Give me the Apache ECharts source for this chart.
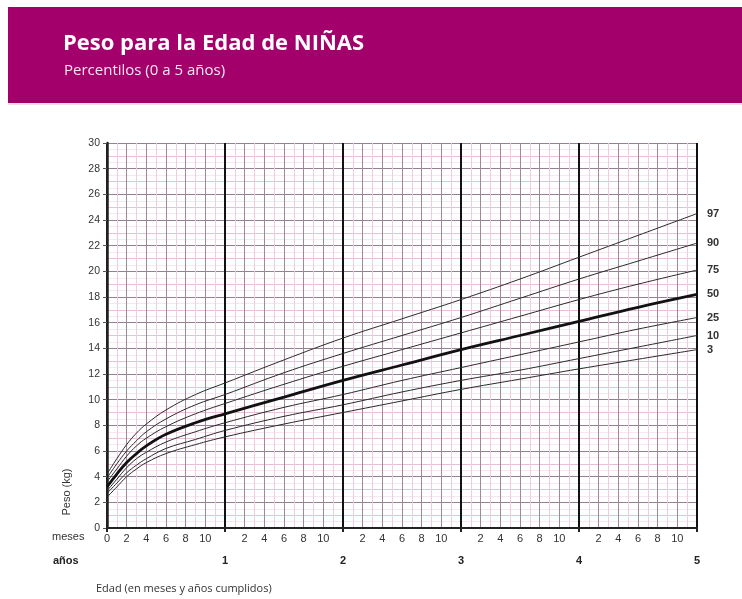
<!DOCTYPE html>
<html><head><meta charset="utf-8">
<script src="https://cdn.jsdelivr.net/npm/echarts@6/dist/echarts.min.js"></script>
<style>html,body{margin:0;padding:0;background:#fff}#c{width:742px;height:599px}</style>
</head><body><div id="c"></div>
<script>
const months = [0,1,2,3,4,6,9,12,18,24,30,36,42,48,54,60];
const p3  = [2.4,3.2,4.0,4.6,5.1,5.8,6.5,7.1,8.1,9.0,9.9,10.8,11.6,12.4,13.15,13.9];
const p10 = [2.7,3.5,4.3,4.9,5.4,6.2,6.9,7.6,8.7,9.6,10.6,11.5,12.3,13.2,14.1,15.0];
const p25 = [2.9,3.8,4.7,5.4,5.9,6.7,7.5,8.2,9.4,10.4,11.5,12.5,13.5,14.5,15.5,16.4];
const p50 = [3.2,4.2,5.1,5.8,6.4,7.3,8.2,8.9,10.2,11.5,12.7,13.9,15.0,16.1,17.2,18.2];
const p75 = [3.6,4.6,5.6,6.4,7.0,7.9,8.9,9.7,11.2,12.6,13.9,15.2,16.5,17.8,19.0,20.1];
const p90 = [3.9,5.0,6.0,6.8,7.5,8.5,9.6,10.4,12.1,13.6,15.0,16.4,17.9,19.4,20.8,22.2];
const p97 = [4.2,5.4,6.5,7.4,8.1,9.2,10.4,11.3,13.1,14.8,16.3,17.8,19.4,21.1,22.8,24.5];
const percentileNames = ['3','10','25','50','75','90','97'];
const yTicks = [0,2,4,6,8,10,12,14,16,18,20,22,24,26,28,30];

const chart = echarts.init(document.getElementById('c'));
const allP = [p3,p10,p25,p50,p75,p90,p97];
const series = allP.map((arr, i) => ({
  type: 'line',
  name: percentileNames[i],
  xAxisIndex: 2, yAxisIndex: 2,
  data: months.map((m, j) => [m, arr[j]]),
  smooth: 0.4,
  symbol: 'none',
  z: 5,
  lineStyle: { color: percentileNames[i] === '50' ? '#111' : '#2a2a2a', width: percentileNames[i] === '50' ? 2.8 : 1 },
  endLabel: { show: true, formatter: percentileNames[i], distance: 10,
    color: '#333', fontWeight: 'bold', fontSize: 11, fontFamily: 'Liberation Sans' }
}));

const grid = { left: 107, right: 45, top: 143, bottom: 71 };
chart.setOption({
  animation: false,
  backgroundColor: '#fff',
  grid: [grid],
  graphic: [
    { type: 'rect', shape: { x: 8, y: 7, width: 734, height: 96 }, style: { fill: '#a3006b' } },
    { type: 'rect', shape: { x: 8, y: 103, width: 734, height: 2 }, style: { fill: '#f2dbe8' } },
    { type: 'text', left: 63, top: 33, style: { text: 'Peso para la Edad de NIÑAS', fill: '#fff', font: 'bold 22px "Open Sans", sans-serif' } },
    { type: 'text', left: 64, top: 63, style: { text: 'Percentilos (0 a 5 años)', fill: '#fbe6f2', font: '15px "Open Sans", sans-serif' } },
    { type: 'text', left: 52, top: 531, style: { text: 'meses', fill: '#333', font: '11px "Liberation Sans", sans-serif' } },
    { type: 'text', left: 53, top: 555, style: { text: 'años', fill: '#222', font: 'bold 11px "Liberation Sans", sans-serif' } },
    { type: 'text', left: 96, top: 583, style: { text: 'Edad (en meses y años cumplidos)', fill: '#333', font: '11px "Open Sans", sans-serif' } },
    { type: 'text', x: 67, y: 492, rotation: Math.PI / 2, style: { text: 'Peso (kg)', fill: '#333', font: '11px "Liberation Sans", sans-serif', align: 'center', verticalAlign: 'middle' } }
  ],
  xAxis: [
    { type: 'value', position: 'bottom', min: 0, max: 60, interval: 1, axisLine: { show: false }, axisTick: { show: false }, axisLabel: { show: false },
      splitLine: { show: true, lineStyle: { color: '#efcde1', width: 1 } } },
    { type: 'value', position: 'bottom', offset: 0, min: 0, max: 60, interval: 2, axisLine: { show: false }, axisTick: { show: false },
      axisLabel: { show: true, margin: 5, color: '#333', fontSize: 11, fontFamily: 'Liberation Sans',
        formatter: v => (v % 12 === 0) ? (v === 0 ? '0' : '') : String(v % 12) },
      splitLine: { show: true, lineStyle: { color: '#a08898', width: 1 } } },
    { type: 'value', position: 'bottom', offset: 0, min: 0, max: 60, interval: 12,
      axisLine: { show: true, lineStyle: { color: '#222', width: 2 } },
      axisTick: { show: true, length: 4, lineStyle: { color: '#222', width: 2 } },
      axisLabel: { show: true, margin: 27, color: '#222', fontSize: 11, fontWeight: 'bold', fontFamily: 'Liberation Sans',
        formatter: v => v === 0 ? '' : String(v / 12) },
      splitLine: { show: true, lineStyle: { color: '#111', width: 2 } } }
  ],
  yAxis: [
    { type: 'value', position: 'left', min: 0, max: 30, interval: 0.5, axisLine: { show: false }, axisTick: { show: false }, axisLabel: { show: false },
      splitLine: { show: true, lineStyle: { color: '#f6e8f0', width: 1 } } },
    { type: 'value', position: 'left', offset: 0, min: 0, max: 30, interval: 1, axisLine: { show: false }, axisTick: { show: false }, axisLabel: { show: false },
      splitLine: { show: true, lineStyle: { color: '#e9bfd8', width: 1 } } },
    { type: 'value', position: 'left', offset: 0, min: 0, max: 30, interval: 2,
      axisLine: { show: true, lineStyle: { color: '#222', width: 2.5 } },
      axisTick: { show: true, length: 4, lineStyle: { color: '#555' } },
      axisLabel: { show: true, margin: 7, color: '#333', fontSize: 10.5, fontFamily: 'Liberation Sans',
        formatter: v => yTicks.includes(v) ? String(v) : '' },
      splitLine: { show: true, lineStyle: { color: '#938090', width: 1 } } }
  ],
  series: series
});
</script></body></html>
